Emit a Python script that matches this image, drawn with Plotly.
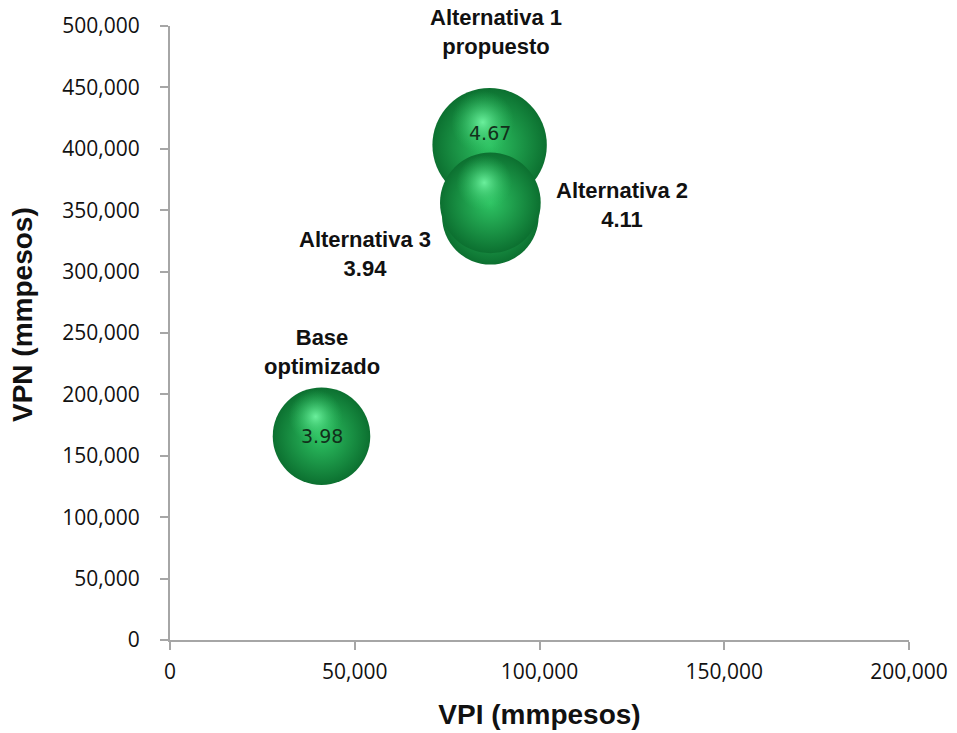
import plotly.graph_objects as go

# ---- data ----
names = ["Base", "Alternativa 1", "Alternativa 3", "Alternativa 2"]
subtitles = ["optimizado", "propuesto", None, None]
vpi = [41000, 86500, 86700, 86700]          # VPI (mmpesos)
vpn = [166000, 403000, 345000, 356000]      # VPN (mmpesos)
ratio = [3.98, 4.67, 3.94, 4.11]            # bubble size (VPN/VPI)
x_ticks = [0, 50000, 100000, 150000, 200000]
y_ticks = [0, 50000, 100000, 150000, 200000, 250000, 300000, 350000, 400000, 450000, 500000]

# ---- layout constants ----
W, H = 957, 733
ML, MR, MT, MB = 170, 48, 26, 93
PW, PH = W - ML - MR, H - MT - MB
XR, YR = [0, 200000], [0, 500000]
DIAM_PER_UNIT = 24.5
px_x = PW / (XR[1] - XR[0])
px_y = PH / (YR[1] - YR[0])

fig = go.Figure()

for i in range(len(names)):
    d = ratio[i] * DIAM_PER_UNIT
    # sphere body
    fig.add_trace(go.Scatter(
        x=[vpi[i]], y=[vpn[i]], mode="markers", showlegend=False, hoverinfo="skip",
        marker=dict(size=[ratio[i]], sizemode="diameter", sizeref=1 / DIAM_PER_UNIT,
                    opacity=1, color="#0c7030", line=dict(width=0),
                    gradient=dict(type="radial", color="#2ec463")),
    ))
    # specular highlight (offset up-left, derived from the bubble size)
    hx = vpi[i] - 0.06 * d / px_x
    hy = vpn[i] + 0.20 * d / px_y
    fig.add_trace(go.Scatter(
        x=[hx], y=[hy], mode="markers", showlegend=False, hoverinfo="skip",
        marker=dict(size=[ratio[i] * 0.55], sizemode="diameter", sizeref=1 / DIAM_PER_UNIT,
                    opacity=1, color="rgba(45,195,98,0)", line=dict(width=0),
                    gradient=dict(type="radial", color="rgba(115,248,165,0.9)")),
    ))

# label placement styles (per point)
label_style = {
    "Base": dict(xanchor="center", xshift=0, yshift=84),
    "Alternativa 1": dict(xanchor="center", xshift=6, yshift=113),
    "Alternativa 3": dict(xanchor="right", xshift=-57, yshift=-38),
    "Alternativa 2": dict(xanchor="left", xshift=64, yshift=-2),
}
inside_value = {"Base": 0, "Alternativa 1": 12}

annotations = []
for i, n in enumerate(names):
    second = subtitles[i] if subtitles[i] else f"{ratio[i]:.2f}"
    st = label_style[n]
    annotations.append(dict(
        x=vpi[i], y=vpn[i], xref="x", yref="y", text=f"<b>{n}<br>{second}</b>",
        showarrow=False, xanchor=st["xanchor"], yanchor="middle", align="center",
        xshift=st["xshift"], yshift=st["yshift"],
        font=dict(family="Liberation Sans, Arial", size=22, color="#111111"),
    ))
    if n in inside_value:
        annotations.append(dict(
            x=vpi[i], y=vpn[i], xref="x", yref="y", text=f"{ratio[i]:.2f}",
            showarrow=False, xanchor="center", yanchor="middle",
            yshift=inside_value[n],
            font=dict(family="DejaVu Sans", size=19, color="#12301b"),
        ))

annotations.append(dict(
    x=(22 - ML) / PW, y=(MT + PH - 315) / PH, xref="paper", yref="paper",
    text="<b>VPN (mmpesos)</b>", textangle=-90, showarrow=False,
    xanchor="center", yanchor="middle",
    font=dict(family="Liberation Sans, Arial", size=28, color="#111111"),
))

axis_common = dict(
    showgrid=False, zeroline=False, showline=True, linecolor="#a6a6a6", linewidth=2,
    ticks="outside", ticklen=8, tickwidth=2, tickcolor="#a6a6a6", automargin=False,
    tickformat=",", tickfont=dict(family="Open Sans", size=21, color="#111111"),
)

fig.update_layout(
    width=W, height=H,
    margin=dict(l=ML, r=MR, t=MT, b=MB),
    paper_bgcolor="white", plot_bgcolor="white",
    xaxis=dict(range=XR, tickvals=x_ticks, ticklabelstandoff=4,
               title=dict(text="<b>VPI (mmpesos)</b>", standoff=20,
                          font=dict(family="Liberation Sans, Arial", size=28, color="#111111")),
               **axis_common),
    yaxis=dict(range=YR, tickvals=y_ticks, ticklabelstandoff=16, **axis_common),
    annotations=annotations,
)

fig.write_html("out.html")
